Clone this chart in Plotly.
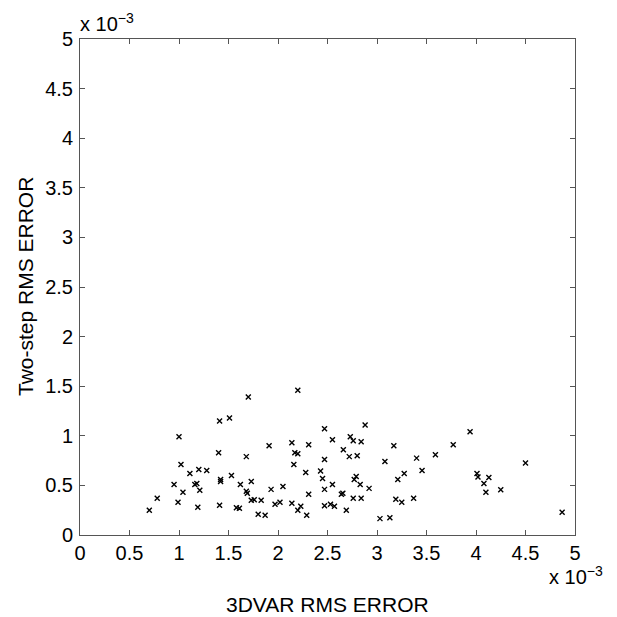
import plotly.graph_objects as go

# values in units of 1e-3
three_dvar_rms = [
    0.70, 0.78, 0.95, 0.99, 1.00, 1.02, 1.04, 1.11, 1.16, 1.18,
    1.19, 1.20, 1.21, 1.28, 1.40, 1.41, 1.41, 1.42, 1.42, 1.51,
    1.53, 1.58, 1.61, 1.62, 1.68, 1.68, 1.69, 1.70, 1.73, 1.73,
    1.76, 1.83, 1.80, 1.87, 1.91, 1.93, 1.97, 2.02, 2.05, 2.14,
    2.14, 2.16, 2.17, 2.20, 2.20, 2.20, 2.23, 2.28, 2.29, 2.31,
    2.31, 2.43, 2.45, 2.47, 2.47, 2.47, 2.47, 2.53, 2.55, 2.55,
    2.57, 2.64, 2.655, 2.66, 2.69, 2.72, 2.73, 2.76, 2.76, 2.77,
    2.79, 2.80, 2.83, 2.84, 2.84, 2.88, 2.92, 3.03, 3.08, 3.13,
    3.17, 3.19, 3.21, 3.25, 3.275, 3.37, 3.40, 3.455, 3.59, 3.77,
    3.94, 4.01, 4.02, 4.08, 4.10, 4.13, 4.25, 4.50, 4.87,
]
two_step_rms = [
    0.25, 0.37, 0.51, 0.33, 0.99, 0.71, 0.43, 0.62, 0.51, 0.52,
    0.28, 0.66, 0.45, 0.65, 0.83, 1.15, 0.30, 0.56, 0.54, 1.18,
    0.60, 0.275, 0.27, 0.51, 0.79, 0.44, 0.42, 1.39, 0.54, 0.35,
    0.355, 0.35, 0.21, 0.20, 0.90, 0.46, 0.31, 0.33, 0.49, 0.93,
    0.32, 0.71, 0.83, 0.82, 1.46, 0.25, 0.29, 0.63, 0.20, 0.91,
    0.41, 0.645, 0.57, 1.07, 0.76, 0.46, 0.295, 0.31, 0.96, 0.51,
    0.29, 0.41, 0.42, 0.86, 0.25, 0.79, 0.99, 0.95, 0.37, 0.56,
    0.59, 0.80, 0.51, 0.37, 0.94, 1.11, 0.47, 0.165, 0.74, 0.175,
    0.90, 0.36, 0.56, 0.33, 0.62, 0.37, 0.775, 0.65, 0.81, 0.91,
    1.04, 0.62, 0.585, 0.52, 0.43, 0.58, 0.455, 0.725, 0.23,
]
tick_vals = [0, 0.5, 1, 1.5, 2, 2.5, 3, 3.5, 4, 4.5, 5]
tick_text = ["0", "0.5", "1", "1.5", "2", "2.5", "3", "3.5", "4", "4.5", "5"]

FONT = "Liberation Sans, Arial, Helvetica, sans-serif"
AXC = "#555555"

fig = go.Figure()
fig.add_trace(go.Scatter(
    x=three_dvar_rms, y=two_step_rms, mode="markers",
    marker=dict(symbol="x-thin-open", size=5, color="black",
                line=dict(color="black", width=1.4)),
    showlegend=False, hoverinfo="x+y",
))

axis_common = dict(
    range=[0, 5], tickvals=tick_vals, ticktext=tick_text,
    ticks="inside", ticklen=5, tickwidth=1, tickcolor=AXC,
    showline=True, linecolor=AXC, linewidth=1, mirror="ticks",
    showgrid=False, zeroline=False,
    tickfont=dict(family=FONT, size=20, color="black"),
)

fig.update_layout(
    width=617, height=617,
    margin=dict(l=80, r=42, t=39, b=82),
    paper_bgcolor="white", plot_bgcolor="white",
    font=dict(family=FONT, color="black"),
    xaxis=dict(**axis_common),
    yaxis=dict(**axis_common, ticklabelstandoff=2),
    annotations=[
        dict(text="3DVAR RMS ERROR", xref="paper", yref="paper", x=0.5, y=0,
             yshift=-69, xanchor="center", yanchor="middle", showarrow=False,
             font=dict(family=FONT, size=21, color="black")),
        dict(text="Two-step RMS ERROR", xref="paper", yref="paper", x=0, y=0.5,
             xshift=-55, textangle=-90, xanchor="center", yanchor="middle",
             showarrow=False, font=dict(family=FONT, size=21, color="black")),
        dict(text="x 10<sup>\u22123</sup>", xref="paper", yref="paper", x=0, y=1,
             xshift=-2, yshift=2, xanchor="left", yanchor="bottom", showarrow=False,
             font=dict(family=FONT, size=20, color="black")),
        dict(text="x 10<sup>\u22123</sup>", xref="paper", yref="paper", x=1, y=0,
             xshift=30, yshift=-40, xanchor="right", yanchor="middle", showarrow=False,
             font=dict(family=FONT, size=20, color="black")),
    ],
)

fig.write_html("out.html", config={"displayModeBar": False},
               post_script="document.body.style.margin='0';document.body.style.overflow='hidden';")
